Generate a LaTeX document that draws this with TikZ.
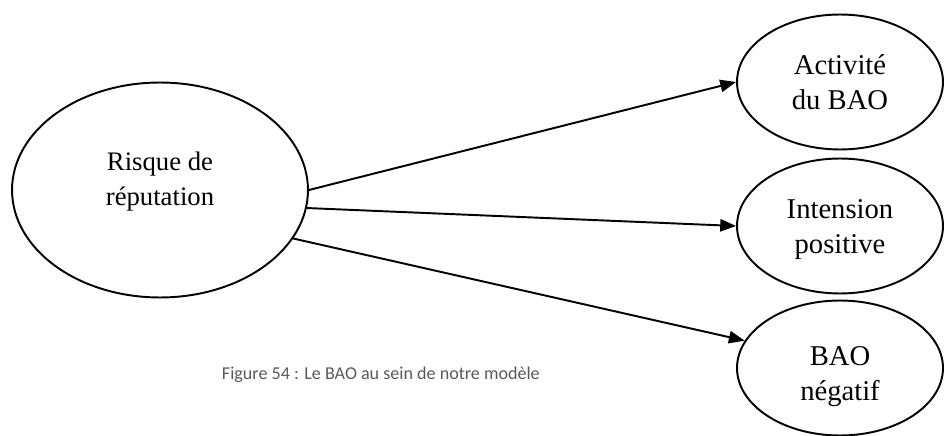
\documentclass[tikz,border=0pt]{standalone}
\usepackage{fontspec}
\setmainfont{Liberation Serif}
\newfontfamily\captfont{Carlito}
\usetikzlibrary{shapes.geometric,arrows.meta}

\begin{document}
\begin{tikzpicture}[x=0.02cm, y=-0.02cm, line width=1.1pt,
  bulle/.style={draw, ellipse, inner sep=0pt, align=center},
  petite/.style={bulle, minimum width=4.12cm, minimum height=2.7cm, font=\fontsize{16.3}{20}\selectfont},
  fleche/.style={-{Triangle[length=9pt,width=7pt]}}]
  \useasboundingbox (0,0) rectangle (944,436);

  % ellipse de gauche
  \node[bulle, minimum width=5.92cm, minimum height=4.3cm, text depth=12.4pt, font=\fontsize{15.2}{20}\selectfont] (risque) at (160,190) {Risque de\\réputation};

  % ellipses de droite
  \node[petite] (activite)  at (840,82)  {Activité\\du BAO};
  \node[petite, text height=34.6pt] (intension) at (840,226) {Intension\\positive};
  \node[petite, text height=40.4pt] (negatif)   at (840,368) {BAO\\négatif};

  % liens
  \draw[fleche] (risque.east) -- (activite.west);
  \draw[fleche] (risque.-7)   -- (intension.west);
  \draw[fleche] (risque.-20)  -- (negatif.164);

  % legende
  \node[anchor=west, inner sep=0pt, text=black!65, font=\captfont\fontsize{10.3}{12}\selectfont] (legende) at (221,375) {Figure 54 : Le BAO au sein de notre modèle};
\end{tikzpicture}
\end{document}
